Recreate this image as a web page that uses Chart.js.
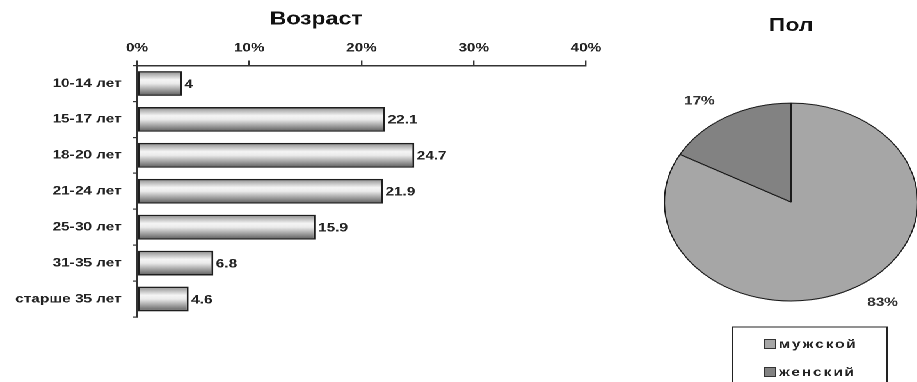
<!DOCTYPE html>
<html>
<head>
<meta charset="utf-8">
<script src="https://cdn.jsdelivr.net/npm/chart.js"></script>
<style>
html, body { margin: 0; padding: 0; background: #ffffff; width: 917px; height: 382px; overflow: hidden; }
#wrap { position: absolute; left: 0; top: 0; width: 720px; height: 382px; transform: scaleX(1.28); transform-origin: 0 0; }
#barBox { position: absolute; left: 0; top: 0; width: 494px; height: 382px; }
#pieBox { position: absolute; left: 494px; top: 0; width: 226px; height: 382px; }
</style>
</head>
<body>
<div id="wrap">
  <div id="barBox"><canvas id="barChart"></canvas></div>
  <div id="pieBox"><canvas id="pieChart"></canvas></div>
</div>
<script>
// ---- data ----
const ageTitle = 'Возраст';
const ageCategories = ['10-14 лет', '15-17 лет', '18-20 лет', '21-24 лет', '25-30 лет', '31-35 лет', 'старше 35 лет'];
const ageValues = [4, 22.1, 24.7, 21.9, 15.9, 6.8, 4.6];
const ageTicks = [0, 10, 20, 30, 40];

const genderTitle = 'Пол';
const genderLabels = ['мужской', 'женский'];
const genderValues = [83, 17];
const genderColors = ['#a6a6a6', '#828282'];

// ---- styling ----
const FONT = "'Liberation Sans', Arial, sans-serif";
Chart.defaults.font.family = FONT;
Chart.defaults.color = '#222';
const BAR_PCT = 0.69;

function barGradient(context) {
  const chart = context.chart;
  const ys = chart.scales && chart.scales.y;
  if (!ys || context.dataIndex === undefined || !isFinite(ys.height) || ys.height <= 0) return '#d0d0d0';
  const c = ys.getPixelForValue(context.dataIndex);
  const half = ys.height / chart.data.labels.length * BAR_PCT / 2;
  const g = chart.ctx.createLinearGradient(0, c - half, 0, c + half);
  g.addColorStop(0, '#8a8a8a');
  g.addColorStop(0.35, '#f5f5f5');
  g.addColorStop(0.5, '#ebebeb');
  g.addColorStop(1, '#5a5a5a');
  return g;
}

const barValueLabels = {
  id: 'barValueLabels',
  afterDatasetsDraw(chart) {
    const ctx = chart.ctx;
    const meta = chart.getDatasetMeta(0);
    const data = chart.data.datasets[0].data;
    ctx.save();
    ctx.font = 'bold 12px ' + FONT;
    ctx.fillStyle = '#222';
    ctx.textAlign = 'left';
    ctx.textBaseline = 'middle';
    meta.data.forEach((el, i) => {
      ctx.fillText(String(data[i]), el.x + 2, el.y + 1);
    });
    ctx.restore();
  }
};

new Chart(document.getElementById('barChart'), {
  type: 'bar',
  data: {
    labels: ageCategories,
    datasets: [{
      data: ageValues,
      backgroundColor: barGradient,
      borderColor: '#1e1e1e',
      borderWidth: 1.5,
      borderSkipped: false,
      barPercentage: BAR_PCT,
      categoryPercentage: 1
    }]
  },
  options: {
    indexAxis: 'y',
    responsive: true,
    maintainAspectRatio: false,
    animation: false,
    devicePixelRatio: 2,
    layout: { padding: { left: 0, right: 0, top: 0, bottom: 65 } },
    plugins: {
      legend: { display: false },
      tooltip: { enabled: false },
      title: {
        display: true, text: ageTitle, color: '#111',
        font: { size: 18, weight: 'bold' },
        padding: { top: 8.5, bottom: 10 }
      }
    },
    scales: {
      x: {
        position: 'top', min: 0, max: 40,
        afterBuildTicks: s => { s.ticks = ageTicks.map(v => ({ value: v })); },
        afterFit: s => { s.height = 25.4; },
        ticks: { callback: v => v + '%', font: { size: 12, weight: 'bold' }, color: '#222', padding: 5, maxRotation: 0 },
        grid: { drawOnChartArea: false, tickLength: 5, color: '#333', lineWidth: 1.2 },
        border: { display: true, color: '#333', width: 1.5 }
      },
      y: {
        afterFit: s => { s.width = 107; },
        ticks: { font: { size: 12, weight: 'bold' }, color: '#222', padding: 9 },
        grid: { drawOnChartArea: false, tickLength: 3, color: '#333', lineWidth: 1.2, offset: true },
        border: { display: true, color: '#333', width: 1.5 }
      },
      yRight: {
        type: 'category', position: 'right', display: true,
        afterFit: s => { s.width = 36.2; },
        ticks: { display: false },
        grid: { display: false },
        border: { display: false }
      }
    }
  },
  plugins: [barValueLabels]
});

const pieLabels = {
  id: 'pieLabels',
  afterDatasetsDraw(chart) {
    const ctx = chart.ctx;
    const meta = chart.getDatasetMeta(0);
    const data = chart.data.datasets[0].data;
    ctx.save();
    ctx.font = 'bold 12px ' + FONT;
    ctx.fillStyle = '#333';
    ctx.textBaseline = 'middle';
    meta.data.forEach((arc, i) => {
      const mid = (arc.startAngle + arc.endAngle) / 2;
      const r = arc.outerRadius + 18;
      const x = arc.x + Math.cos(mid) * r;
      const y = arc.y + Math.sin(mid) * r;
      ctx.textAlign = Math.cos(mid) < 0 ? 'right' : 'left';
      ctx.fillText(data[i] + '%', x, y);
    });
    ctx.restore();
  }
};

const boxedLegend = {
  id: 'boxedLegend',
  afterDraw(chart) {
    const ctx = chart.ctx;
    const area = chart.chartArea;
    const cx = (area.left + area.right) / 2;
    const top = area.bottom + 25.5;
    const ds = chart.data.datasets[0];
    ctx.save();
    ctx.strokeStyle = '#222';
    ctx.lineWidth = 1;
    ctx.strokeRect(cx - 46, top, 121, 90);
    ctx.font = 'bold 12px ' + FONT;
    if ('letterSpacing' in ctx) ctx.letterSpacing = '1.5px';
    ctx.textAlign = 'left';
    ctx.textBaseline = 'middle';
    chart.data.labels.forEach((lab, i) => {
      const y = top + 17 + i * 28;
      ctx.fillStyle = ds.backgroundColor[i];
      ctx.fillRect(cx - 21, y - 4.5, 9, 9);
      ctx.strokeStyle = '#333';
      ctx.strokeRect(cx - 21, y - 4.5, 9, 9);
      ctx.fillStyle = '#222';
      ctx.fillText(lab, cx - 9.5, y + 0.5);
    });
    ctx.restore();
  }
};

new Chart(document.getElementById('pieChart'), {
  type: 'pie',
  data: {
    labels: genderLabels,
    datasets: [{
      data: genderValues,
      backgroundColor: genderColors,
      borderColor: '#1a1a1a',
      borderWidth: 1,
      clip: false
    }]
  },
  options: {
    responsive: true,
    maintainAspectRatio: false,
    animation: false,
    devicePixelRatio: 2,
    layout: { padding: { left: 24.5, right: 2.5, top: 0, bottom: 80.5 } },
    plugins: {
      legend: { display: false },
      tooltip: { enabled: false },
      title: {
        display: true, text: genderTitle, color: '#111',
        font: { size: 18, weight: 'bold' },
        padding: { top: 15, bottom: 66 }
      }
    }
  },
  plugins: [pieLabels, boxedLegend]
});
</script>
</body>
</html>
